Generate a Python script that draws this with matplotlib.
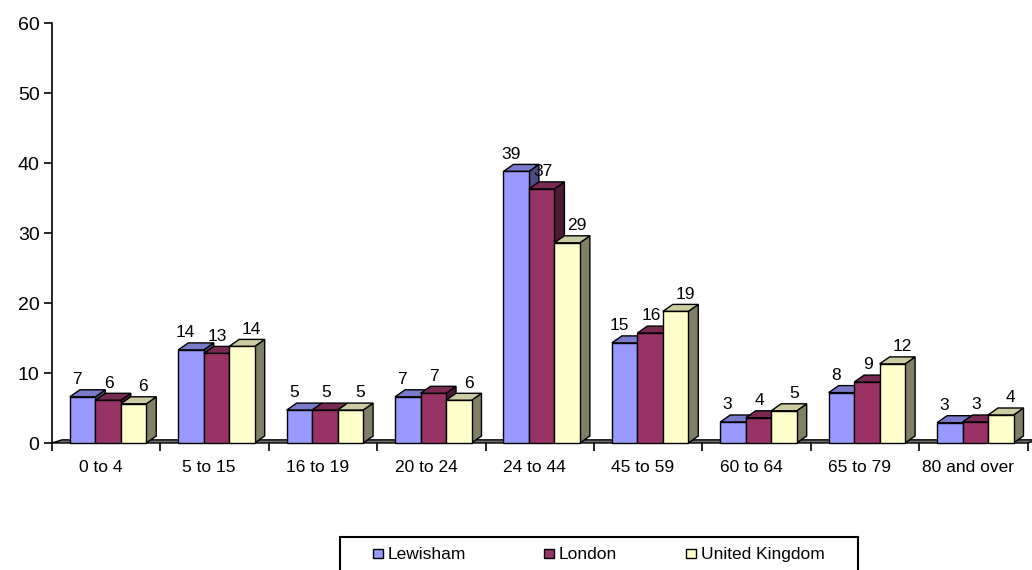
import matplotlib.pyplot as plt
from matplotlib.patches import Polygon, Rectangle
import numpy as np

plt.rcParams['font.family'] = ['Liberation Sans', 'DejaVu Sans']

# age bands and percentage values
categories = ['0 to 4', '5 to 15', '16 to 19', '20 to 24', '24 to 44',
              '45 to 59', '60 to 64', '65 to 79', '80 and over']
lewisham = [6.6, 13.3, 4.7, 6.6, 38.8, 14.3, 3.0, 7.2, 2.9]
london = [6.1, 12.8, 4.7, 7.1, 36.3, 15.7, 3.6, 8.7, 3.0]
uk = [5.6, 13.8, 4.7, 6.1, 28.6, 18.8, 4.6, 11.3, 4.0]
lew_labels = ['7', '14', '5', '7', '39', '15', '3', '8', '3']
lon_labels = ['6', '13', '5', '7', '37', '16', '4', '9', '3']
uk_labels = ['6', '14', '5', '6', '29', '19', '5', '12', '4']

series = [
    ('Lewisham', lewisham, lew_labels, '#9999FF', '#7A7ACC', '#4C4C80', -0.05),
    ('London', london, lon_labels, '#993366', '#7A2952', '#4D1A33', 0.01),
    ('United Kingdom', uk, uk_labels, '#FFFFCC', '#CCCCA3', '#808066', 0.09),
]

W, H = 1032, 570
fig = plt.figure(figsize=(W / 100, H / 100), dpi=100)
ax = fig.add_axes([52 / W, 127 / H, 975.6 / W, 420 / H])
ax.set_xlim(0, 9)
ax.set_ylim(0, 60)

# depth of the fake 3d effect, in data units
dx = 0.092
dy = 1.0
w = 0.235
start = 0.165

# floor
floor = Polygon([(0, 0), (9, 0), (9 + dx, 0.45), (dx, 0.45)], closed=True,
                facecolor='#6E6E6E', edgecolor='black', lw=1, clip_on=False, zorder=1)
ax.add_patch(floor)

for i in range(len(categories)):
    for j, (name, vals, labs, front, top, side, loff) in enumerate(series):
        x0 = i + start + j * w
        x1 = x0 + w
        v = vals[i]
        ax.add_patch(Polygon([(x1, 0), (x1 + dx, dy), (x1 + dx, v + dy), (x1, v)],
                             facecolor=side, edgecolor='black', lw=1, clip_on=False, zorder=2))
        ax.add_patch(Polygon([(x0, v), (x1, v), (x1 + dx, v + dy), (x0 + dx, v + dy)],
                             facecolor=top, edgecolor='black', lw=1, clip_on=False, zorder=2))
        ax.add_patch(Polygon([(x0, 0), (x1, 0), (x1, v), (x0, v)],
                             facecolor=front, edgecolor='black', lw=1, clip_on=False, zorder=2))
        ax.annotate(labs[i], (x0 + w / 2 + loff, v + dy), xytext=(0, 2),
                    textcoords='offset points', ha='center', va='bottom', fontsize=12.5)

for s in ['top', 'right', 'bottom']:
    ax.spines[s].set_visible(False)
ax.spines['left'].set_linewidth(1.2)

ax.set_yticks(np.arange(0, 61, 10))
ax.tick_params(axis='y', length=6, width=1.2, labelsize=14, pad=3)
ax.set_xticks(np.arange(0, 10))
ax.set_xticklabels([''] * 10)
ax.set_xticks(np.arange(9) + 0.45, minor=True)
ax.set_xticklabels(categories, minor=True)
ax.tick_params(axis='x', which='major', length=6, width=1.2)
ax.tick_params(axis='x', which='minor', length=0, labelsize=12.5, pad=12)

# legend box drawn by hand to match the spacing of the original
fig.patches.append(Rectangle((340 / W, -5 / H), 518 / W, 38 / H, transform=fig.transFigure,
                             facecolor='white', edgecolor='black', lw=1.5, clip_on=False))
legend_x = [373, 544, 686]
for (name, _, _, c, _, _, _), lx in zip(series, legend_x):
    fig.patches.append(Rectangle((lx / W, 12 / H), 9.5 / W, 9.5 / H, transform=fig.transFigure,
                                 facecolor=c, edgecolor='black', lw=1))
    fig.text((lx + 15) / W, 15.5 / H, name, fontsize=12.5, ha='left', va='center')

fig.savefig('out.png', dpi=100)
